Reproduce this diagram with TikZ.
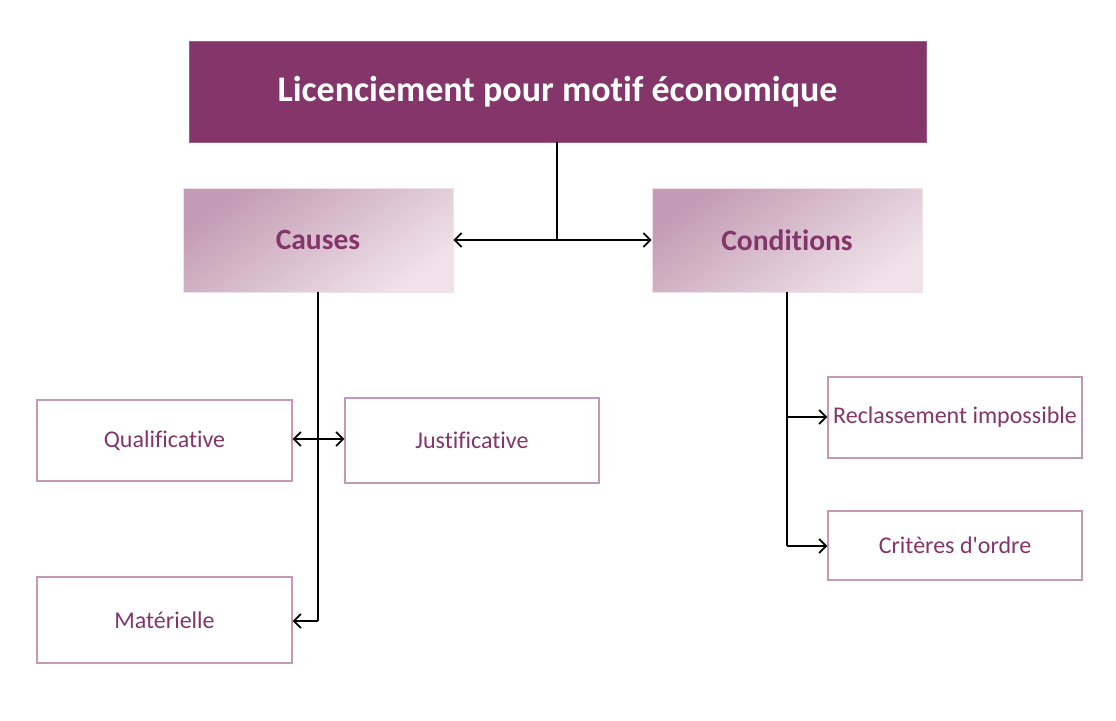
\documentclass[tikz,border=0pt]{standalone}
\usepackage{fontspec}
\setmainfont[Ligatures={NoCommon}]{Carlito}
\usetikzlibrary{arrows.meta}
\definecolor{plum}{HTML}{84366A}
\definecolor{gradA}{HTML}{C49BB4}
\definecolor{gradB}{HTML}{EFE3E9}
\definecolor{boxline}{HTML}{C29AB5}
\begin{document}
\begin{tikzpicture}[x=1pt,y=-1pt,
  titlebox/.style={draw=plum!80!white,line width=0.8pt,fill=plum,text=white,font=\fontsize{36}{42}\selectfont\bfseries,inner sep=0pt},
  midbox/.style={draw=gradB,line width=0.8pt,top color=gradA,bottom color=gradB,shading angle=35,text=plum,font=\fontsize{29.5}{34}\selectfont\bfseries,inner sep=0pt},
  leafbox/.style={draw=boxline,line width=1.3pt,fill=white,text=plum,font=\fontsize{24}{28}\selectfont,inner sep=0pt},
  conn/.style={line width=1.8pt,black},
  arr/.style={conn,-{Straight Barb[length=7pt,width=14pt,line width=1.8pt]}},
  darr/.style={conn,{Straight Barb[length=7pt,width=14pt,line width=1.8pt]}-{Straight Barb[length=7pt,width=14pt,line width=1.8pt]}}]
\useasboundingbox (0,0) rectangle (1116,720);
\node[titlebox,minimum width=737pt,minimum height=101pt] (title) at (557.5,91.5) {Licenciement pour motif économique};
\node[midbox,minimum width=270pt,minimum height=104pt] (causes) at (318,240) {Causes};
\node[midbox,minimum width=270pt,minimum height=104pt] (cond) at (787,240) {Conditions};
\node[leafbox,minimum width=255pt,minimum height=81pt] (qual) at (164.5,440.5) {Qualificative};
\node[leafbox,minimum width=254pt,minimum height=85pt] (just) at (472,440.5) {Justificative};
\node[leafbox,minimum width=255pt,minimum height=86pt] (mat) at (164.5,620) {Matérielle};
\node[leafbox,minimum width=254pt,minimum height=81pt] (recl) at (955,417.5) {Reclassement impossible};
\node[leafbox,minimum width=254pt,minimum height=69pt] (crit) at (955,545.5) {Critères d\textquotesingle ordre};
\coordinate (tj) at (557,240);
\coordinate (cj) at (318,621);
\coordinate (qj) at (318,439);
\coordinate (r1) at (787,417);
\coordinate (r2) at (787,546);
% top connector
\draw[conn] (title.south -| tj) -- (tj);
\draw[arr] (tj) -- (causes.east);
\draw[arr] (tj) -- (cond.west);
% causes branch
\draw[conn] (causes.south) -- (cj);
\draw[arr] (cj) -- (mat.east |- cj);
\draw[darr] (qual.east |- qj) -- (just.west |- qj);
% conditions branch
\draw[conn] (cond.south) -- (r2);
\draw[arr] (r1) -- (recl.west |- r1);
\draw[arr] (r2) -- (crit.west |- r2);
\end{tikzpicture}
\end{document}
